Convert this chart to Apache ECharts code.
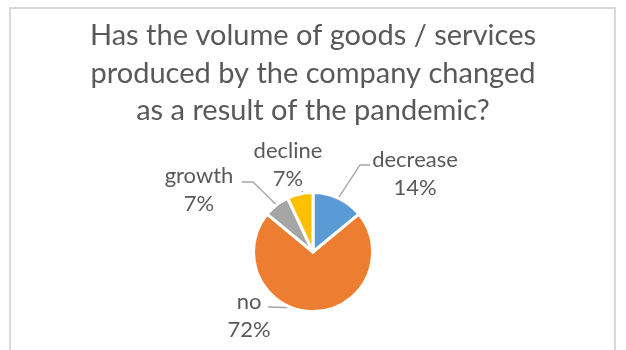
<!DOCTYPE html>
<html>
<head>
<meta charset="utf-8">
<script src="https://cdn.jsdelivr.net/npm/echarts@6/dist/echarts.min.js"></script>
<style>
  html, body { margin: 0; padding: 0; background: #fff; }
  #chart { width: 626px; height: 350px; }
</style>
</head>
<body>
<div id="chart"></div>
<script>
// Survey answers and their shares (%)
const categories = ['decrease', 'no', 'growth', 'decline'];
const shares = [14, 72, 7, 7];
const sliceColors = ['#5B9BD5', '#ED7D31', '#A5A5A5', '#FFC000'];

const titleText = 'Has the volume of goods / services\nproduced by the company changed\nas a result of the pandemic?';

// Where each two-line label sits (centre of the block) and the bends of its leader line
const labelPlacement = {
  decrease: { x: 415, y: 174, bends: [[360, 165], [370, 165]] },
  no:       { x: 249, y: 316, bends: [[302, 308], [268, 307]] },
  growth:   { x: 199, y: 190, bends: [[253, 182], [242, 182]] },
  decline:  { x: 288, y: 165, bends: [[303, 191]] }
};

const textColor = '#595959';
const fontFamily = 'Lato, "Open Sans", sans-serif';

const chart = echarts.init(document.getElementById('chart'), null, { renderer: 'canvas' });

chart.setOption({
  animation: false,
  backgroundColor: '#fff',
  graphic: [{
    type: 'rect',
    silent: true,
    shape: { x: 10, y: 8, width: 605, height: 360 },
    style: { fill: 'none', stroke: '#d9d9d9', lineWidth: 2 }
  }],
  title: {
    text: titleText,
    left: 'center',
    top: 17,
    padding: [0, 0, 0, 6],
    textStyle: {
      fontFamily: fontFamily,
      fontSize: 29,
      fontWeight: 'normal',
      lineHeight: 37.5,
      color: textColor
    }
  },
  series: [{
    type: 'pie',
    center: [313, 252],
    radius: 59.5,
    startAngle: 90,
    clockwise: true,
    avoidLabelOverlap: false,
    silent: true,
    itemStyle: { borderColor: '#fff', borderWidth: 3 },
    label: {
      show: true,
      position: 'outside',
      formatter: '{b}\n{d}%',
      fontFamily: fontFamily,
      fontSize: 22,
      lineHeight: 28,
      color: textColor,
      align: 'center'
    },
    labelLine: {
      show: true,
      length: 12,
      length2: 10,
      lineStyle: { color: '#a6a6a6', width: 1.3 }
    },
    labelLayout: function (params) {
      const place = labelPlacement[categories[params.dataIndex]];
      const out = { x: place.x, y: place.y, align: 'center', verticalAlign: 'middle' };
      if (params.labelLinePoints) {
        out.labelLinePoints = [params.labelLinePoints[0]].concat(place.bends);
      }
      return out;
    },
    data: categories.map(function (name, i) {
      return { name: name, value: shares[i], itemStyle: { color: sliceColors[i] } };
    })
  }]
});
</script>
</body>
</html>
